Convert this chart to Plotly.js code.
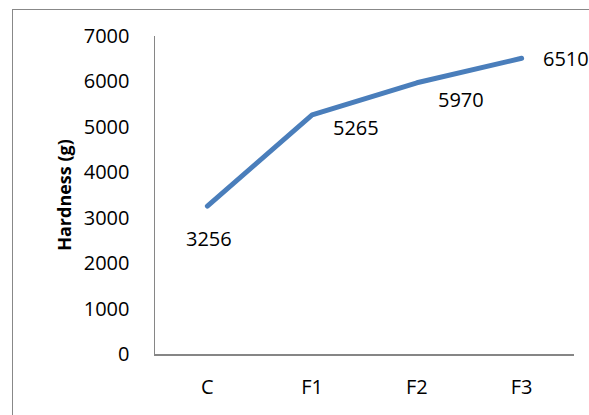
<!DOCTYPE html>
<html>
<head>
<meta charset="utf-8">
<script src="https://cdn.plot.ly/plotly-3.0.1.min.js"></script>
<style>
  html, body { margin: 0; padding: 0; background: #fff; }
  #wrap { position: relative; width: 589px; height: 415px; overflow: hidden; }
  #chart { width: 589px; height: 415px; }
  #frame { position: absolute; left: 12px; top: 9px; width: 640px; height: 460px;
           border: 1.5px solid #888; pointer-events: none; box-sizing: border-box; }
  .js-line { stroke-linecap: round; stroke-linejoin: round; }
</style>
</head>
<body>
<div id="wrap">
  <div id="chart"></div>
  <div id="frame"></div>
</div>
<script>
const categories = ["C", "F1", "F2", "F3"];
const hardness = [3256, 5265, 5970, 6510];
const yTicks = [0, 1000, 2000, 3000, 4000, 5000, 6000, 7000];
const yTitle = "Hardness (g)";

// label offsets (pixels) relative to each point
const labelShiftX = [2, 44, 44, 44];
const labelShiftY = [-32, -13, -17, 0];

const font = "Open Sans, Liberation Sans, sans-serif";

const trace = {
  x: categories,
  y: hardness,
  type: "scatter",
  mode: "lines",
  line: { color: "#4a7ebb", width: 5 },
  hoverinfo: "none"
};

const annotations = hardness.map((v, i) => ({
  x: categories[i],
  y: v,
  xref: "x",
  yref: "y",
  text: String(v),
  showarrow: false,
  xanchor: "center",
  yanchor: "middle",
  xshift: labelShiftX[i],
  yshift: labelShiftY[i],
  font: { family: font, size: 20, color: "#000" }
}));

const layout = {
  width: 589,
  height: 415,
  margin: { l: 155, r: 15, t: 36, b: 61, pad: 0 },
  paper_bgcolor: "#fff",
  plot_bgcolor: "#fff",
  showlegend: false,
  font: { family: font, size: 20, color: "#000" },
  xaxis: {
    type: "category",
    range: [-0.5, 3.5],
    showgrid: false,
    zeroline: false,
    showline: true,
    linecolor: "#868686",
    linewidth: 1.5,
    ticks: "",
    ticklen: 0,
    ticklabelstandoff: 14,
    tickfont: { family: font, size: 20, color: "#000" },
    fixedrange: true
  },
  yaxis: {
    range: [0, 7000],
    tickvals: yTicks,
    ticktext: yTicks.map(String),
    showgrid: false,
    zeroline: false,
    showline: true,
    linecolor: "#868686",
    linewidth: 1.5,
    ticks: "",
    ticklen: 0,
    ticklabelstandoff: 20,
    tickfont: { family: font, size: 20, color: "#000" },
    title: { text: "<b>" + yTitle + "</b>", font: { family: font, size: 18, color: "#000" }, standoff: 7 },
    fixedrange: true
  },
  annotations: annotations
};

Plotly.newPlot("chart", [trace], layout, { staticPlot: true, displayModeBar: false });
</script>
</body>
</html>
